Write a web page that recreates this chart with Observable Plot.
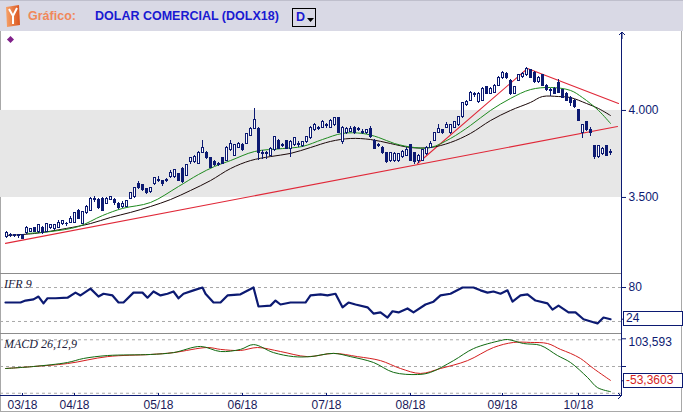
<!DOCTYPE html>
<html><head><meta charset="utf-8">
<script src="https://cdn.jsdelivr.net/npm/d3@7"></script>
<script src="https://cdn.jsdelivr.net/npm/@observablehq/plot@0.6"></script>
<style>
body{margin:0;background:#fff;}
#chart{position:relative;width:683px;height:413px;overflow:hidden;background:#fff;font-family:"Liberation Sans",Arial,sans-serif;}
.abs{position:absolute;}
.plot{position:absolute;left:0;}
#header{left:0;top:0;width:683px;height:31px;background:#d9d9e5;border-top:1px solid #bfbfcc;box-sizing:border-box;}
.htxt{position:absolute;top:8px;font-weight:bold;font-size:12.5px;white-space:nowrap;}
.lbl{position:absolute;font-family:"Liberation Serif","Times New Roman",serif;font-style:italic;font-size:12px;color:#1a1a3a;white-space:nowrap;}
.box{position:absolute;left:623px;width:56px;height:13px;border:1px solid #0c1a72;font-size:12px;line-height:13px;padding-left:2px;box-sizing:content-box;background:#fff;}
</style></head>
<body>
<div id="chart">
  <div id="header" class="abs">
    <svg class="abs" style="left:4px;top:4px" width="18" height="23" viewBox="0 0 18 23">
      <defs><linearGradient id="lg" x1="0" x2="1"><stop offset="0" stop-color="#f7a36a"/><stop offset="1" stop-color="#d9531e"/></linearGradient></defs>
      <polygon points="2,2 15,0 16,20 3,22" fill="url(#lg)"/>
      <path d="M5,4 L9,11 L13,3 M9,11 L9,19" stroke="#fff" stroke-width="2" fill="none"/>
    </svg>
    <span class="htxt" style="left:28px;color:#f0885a">Gráfico:</span>
    <span class="htxt" style="left:95px;color:#1a1ad2">DOLAR COMERCIAL (DOLX18)</span>
    <div class="abs" style="left:292px;top:7px;width:24px;height:19px;border:1px solid #000;box-sizing:border-box;">
      <span class="htxt" style="left:3px;top:1px;color:#1a1ad2">D</span>
      <svg class="abs" style="left:14px;top:9px" width="7" height="4"><polygon points="0,0 7,0 3.5,4" fill="#000"/></svg>
    </div>
  </div>
  <!-- frame chrome -->
  <div class="abs" style="left:0;top:31px;width:1px;height:381px;background:#a8a8a8"></div>
  <div class="abs" style="left:681px;top:31px;width:1px;height:381px;background:#a8a8a8"></div>
  <div class="abs" style="left:0;top:411px;width:682px;height:1px;background:#a8a8a8"></div>
  <div id="plots"></div>
  <div class="abs" style="left:0;top:273px;width:622px;height:1px;background:#8c8c8c"></div>
  <div class="abs" style="left:0;top:333px;width:622px;height:1px;background:#8c8c8c"></div>
  <div class="abs" style="left:621px;top:33px;width:1px;height:363px;background:#0c1a72"></div>
  <div class="abs" style="left:0;top:395px;width:622px;height:1px;background:#0c1a72"></div>
  <svg class="abs" style="left:617px;top:31px" width="10" height="8"><path d="M5,1 L5,8 M2,4 L5,1 L8,4" stroke="#0c1a72" fill="none"/></svg>
  <svg class="abs" style="left:615px;top:391px" width="10" height="10"><path d="M3,2 L6,5 L3,8" stroke="#0c1a72" fill="none"/></svg>
  <div class="abs" style="left:8px;top:37px;width:5px;height:5px;background:#80208a;transform:rotate(45deg)"></div>
  <div class="lbl" style="left:4px;top:277px">IFR 9</div>
  <div class="lbl" style="left:4px;top:337px">MACD 26,12,9</div>
</div>
<script>
// ---- price data (candles, in order) ----
const open = [3.270,3.276,3.282,3.276,3.282,3.293,3.304,3.322,3.299,3.327,
3.304,3.322,3.316,3.327,3.345,3.350,3.356,3.356,3.425,3.350,
3.408,3.425,3.483,3.483,3.494,3.465,3.488,3.488,3.465,3.448,
3.448,3.494,3.500,3.580,3.569,3.546,3.529,3.575,3.597,3.592,
3.592,3.615,3.615,3.632,3.666,3.626,3.701,3.701,3.695,3.758,
3.758,3.724,3.701,3.695,3.724,3.712,3.770,3.741,3.787,3.804,
3.810,3.856,3.896,3.896,3.758,3.747,3.741,3.770,3.827,3.793,
3.822,3.776,3.799,3.810,3.793,3.816,3.839,3.885,3.902,3.902,
3.914,3.902,3.914,3.954,3.816,3.873,3.879,3.902,3.885,3.873,
3.868,3.896,3.827,3.793,3.787,3.753,3.707,3.712,3.707,3.730,
3.741,3.799,3.753,3.712,3.712,3.747,3.787,3.827,3.873,3.885,
3.902,3.868,3.902,3.914,3.960,4.029,4.057,4.086,4.046,4.057,
4.132,4.097,4.103,4.143,4.184,4.212,4.172,4.097,4.172,4.195,
4.201,4.230,4.218,4.161,4.201,4.143,4.109,4.126,4.155,4.115,
4.097,4.074,4.057,4.000,3.873,3.931,3.885,3.793,3.730,3.747,
3.793,3.753];
const high = [3.304,3.293,3.287,3.287,3.287,3.333,3.322,3.327,3.345,3.333,
3.350,3.345,3.345,3.368,3.368,3.356,3.391,3.414,3.431,3.419,
3.454,3.500,3.506,3.494,3.500,3.500,3.506,3.494,3.471,3.477,
3.483,3.529,3.557,3.592,3.575,3.552,3.557,3.615,3.620,3.597,
3.609,3.655,3.661,3.638,3.672,3.689,3.730,3.741,3.764,3.827,
3.764,3.730,3.712,3.701,3.730,3.793,3.827,3.804,3.816,3.810,
3.868,3.902,4.011,3.902,3.770,3.764,3.787,3.850,3.833,3.810,
3.827,3.827,3.845,3.822,3.822,3.850,3.908,3.925,3.908,3.942,
3.925,3.948,3.960,3.960,3.908,3.902,3.908,3.908,3.902,3.891,
3.891,3.908,3.833,3.810,3.793,3.758,3.758,3.758,3.753,3.770,
3.787,3.804,3.758,3.747,3.776,3.793,3.822,3.873,3.919,3.891,
3.931,3.919,3.937,3.965,4.046,4.057,4.109,4.103,4.103,4.132,
4.138,4.132,4.149,4.195,4.224,4.218,4.178,4.138,4.207,4.218,
4.247,4.236,4.224,4.195,4.207,4.149,4.126,4.132,4.178,4.120,
4.103,4.080,4.063,4.006,3.919,3.937,3.902,3.799,3.799,3.787,
3.799,3.776];
const low = [3.264,3.270,3.270,3.264,3.259,3.287,3.299,3.299,3.293,3.287,
3.299,3.316,3.310,3.322,3.339,3.333,3.350,3.350,3.373,3.345,
3.402,3.419,3.471,3.431,3.419,3.460,3.483,3.454,3.431,3.437,
3.442,3.488,3.494,3.546,3.534,3.517,3.523,3.569,3.586,3.563,
3.586,3.609,3.609,3.592,3.580,3.620,3.689,3.695,3.689,3.753,
3.718,3.666,3.678,3.678,3.689,3.707,3.764,3.735,3.781,3.764,
3.804,3.850,3.891,3.712,3.718,3.718,3.735,3.764,3.776,3.787,
3.776,3.730,3.793,3.787,3.787,3.810,3.833,3.879,3.885,3.896,
3.896,3.896,3.908,3.868,3.804,3.862,3.873,3.862,3.879,3.862,
3.862,3.839,3.776,3.787,3.747,3.695,3.701,3.701,3.701,3.724,
3.735,3.707,3.689,3.695,3.707,3.741,3.781,3.822,3.868,3.862,
3.896,3.862,3.896,3.908,3.954,4.023,4.051,4.074,4.040,4.051,
4.092,4.092,4.097,4.138,4.178,4.178,4.086,4.092,4.166,4.184,
4.195,4.184,4.155,4.155,4.138,4.109,4.080,4.092,4.097,4.069,
4.051,4.023,4.011,3.937,3.839,3.879,3.850,3.718,3.724,3.741,
3.735,3.741];
const close = [3.293,3.282,3.276,3.282,3.264,3.322,3.316,3.304,3.339,3.293,
3.345,3.339,3.339,3.356,3.362,3.345,3.379,3.408,3.379,3.414,
3.448,3.494,3.494,3.437,3.425,3.494,3.500,3.471,3.437,3.460,
3.477,3.523,3.552,3.552,3.540,3.523,3.552,3.609,3.603,3.575,
3.603,3.638,3.655,3.597,3.586,3.684,3.724,3.735,3.758,3.787,
3.724,3.672,3.689,3.689,3.695,3.787,3.810,3.799,3.810,3.770,
3.862,3.896,3.948,3.758,3.747,3.758,3.781,3.845,3.781,3.804,
3.781,3.816,3.839,3.799,3.816,3.845,3.902,3.914,3.896,3.931,
3.908,3.942,3.954,3.873,3.902,3.891,3.896,3.868,3.891,3.879,
3.885,3.845,3.781,3.804,3.753,3.701,3.753,3.747,3.747,3.764,
3.770,3.712,3.701,3.741,3.770,3.787,3.810,3.868,3.891,3.873,
3.919,3.914,3.931,3.960,4.040,4.046,4.103,4.092,4.097,4.126,
4.097,4.126,4.143,4.189,4.218,4.184,4.097,4.132,4.201,4.207,
4.241,4.189,4.161,4.189,4.143,4.115,4.120,4.097,4.103,4.074,
4.057,4.040,4.017,3.942,3.914,3.885,3.873,3.730,3.793,3.781,
3.741,3.764];

// moving averages [candle index, price]
const maGreen = [[5,3.293],[11,3.304],[18,3.333],[24,3.396],[29,3.437],[36,3.471],[43,3.563],[48,3.632],[52,3.678],[56,3.712],[62,3.764],[69,3.781],[74,3.793],[79,3.833],[84,3.868],[89,3.868],[93,3.845],[97,3.810],[102,3.787],[106,3.787],[111,3.839],[116,3.914],[121,4.000],[126,4.069],[131,4.120],[136,4.132],[141,4.115],[144,4.074],[148,4.000],[151,3.925]];
const maBlack = [[0,3.282],[7,3.293],[15,3.322],[21,3.350],[26,3.385],[31,3.414],[36,3.448],[41,3.488],[46,3.540],[51,3.597],[56,3.666],[61,3.712],[66,3.735],[71,3.753],[76,3.787],[81,3.822],[86,3.839],[91,3.833],[96,3.810],[101,3.787],[106,3.787],[111,3.816],[116,3.868],[121,3.942],[126,4.000],[131,4.046],[134,4.080],[138,4.080],[141,4.074],[145,4.040],[148,4.011],[151,3.971]];

// trend lines [candle index, price]
const trendSupport = [[-0.25,3.236],[152.75,3.908]];
const trendUp = [[102.75,3.695],[130.25,4.241]];
const trendDown = [[130.25,4.241],[153,4.040]];

const bandLevels = [3.5, 4.0];
const priceTicks = [3.5, 4.0];

// IFR 9 [candle index, value]
const ifr = [[-0.25,53.5],[3.5,53.5],[4.75,57],[6.75,59],[8,64],[9.25,52],[10.25,61],[12.25,61],[15.25,62],[17.25,71],[18.5,66],[21,78],[23,64],[24.25,69],[26.5,66],[28,53.5],[29.25,53.5],[31.75,71],[34,71],[35.25,62],[36.75,73],[38.5,66],[40.25,69],[41.75,73],[43,61],[44.25,69],[46.75,75],[49,80],[49.75,69],[51.75,53.5],[53.5,53.5],[55.25,66],[58.5,68],[61.75,80],[63,46.5],[66,48],[67.25,57],[68.5,50],[71,53.5],[74.75,53.5],[76,66],[78.5,68],[80.25,66],[82.25,69],[84,45],[85.5,53.5],[87.25,50],[90.25,45],[91.75,34],[93.5,36],[95.25,27],[96.5,38],[98,36],[100.25,43],[101.75,36],[104.75,50],[106.75,55],[108.5,66],[111,69],[114,80],[116.75,80],[118.5,75],[120.25,71],[121.75,73],[123.5,69],[125.25,75],[126.5,55],[128.5,66],[130.25,68],[132.25,57],[135.25,52],[136.5,41],[138,48],[140.5,36],[142.25,36],[144.25,24],[147.75,16.5],[149.25,27],[151,24]];
const ifrGrid = [20, 80];
const ifrLabels = [80];
const ifrLast = 24;

// MACD 26,12,9 [candle index, value]
const macdLine = [[-0.25,-7.5],[6.75,0],[15.25,15],[19.25,30],[25.25,41],[36,45],[41.75,52],[48.5,75],[53.5,56],[58.5,64],[61.75,82],[66.75,52],[71.75,37],[76,37],[81.75,49],[86,37],[91.75,15],[96.75,-22],[102.75,-30],[106,-22],[111.75,22],[116.75,67],[123.5,97],[125.25,101],[129.25,86],[133.5,79],[137.75,41],[141,15],[145.25,-41],[147.75,-79],[151,-94]];
const macdSignal = [[-0.25,-7.5],[6.75,0],[15.25,11],[25.25,37],[36,45],[41.75,52],[50.25,71],[53.5,64],[58.5,60],[62.75,71],[68.5,56],[75.25,37],[81.75,49],[87.75,37],[93.5,22],[98.5,-7.5],[103.5,-26],[108.5,-7.5],[115.25,22],[121.75,71],[126.75,90],[131,90],[135.25,86],[138.5,64],[141,49],[143.5,30],[146.75,-7.5],[151,-52]];
const macdGrid = [100, 0, -100];
const macdTop = 103.593;
const macdLast = -53.3603;

// time axis
const monthIdx = [4, 17, 38, 59, 80, 101, 124, 143];
const monthLabels = ["03/18","04/18","05/18","06/18","07/18","08/18","09/18","10/18"];

// ---- drawing ----
const navy = "#0c1a72", red = "#e02838";
const xDomain = [-1.5, 154];
const common = {width: 683, marginLeft: 0, marginRight: 61,
  style: {fontFamily: "'Liberation Sans', Arial, sans-serif", fontSize: "12px", background: "transparent", overflow: "visible"}};
const candles = open.map((o, i) => ({i, o, h: high[i], l: low[i], c: close[i]}));
const ups = candles.filter(d => d.c >= d.o), downs = candles.filter(d => d.c < d.o);
const X = d => d[0], Y = d => d[1];
const xMax = () => xDomain[1], xMin = () => xDomain[0];

const pricePlot = Plot.plot({...common, height: 244, marginTop: 2, marginBottom: 1,
  x: {domain: xDomain, axis: null}, y: {domain: [3.063, 4.448], axis: null},
  marks: [
    Plot.rect([bandLevels], {x1: xMin, x2: xMax, y1: d => d[0], y2: d => d[1], fill: "#e7e7e7"}),
    Plot.line(trendSupport, {x: X, y: Y, stroke: red, strokeWidth: 1.1}),
    Plot.line(trendUp, {x: X, y: Y, stroke: red, strokeWidth: 1.1}),
    Plot.line(trendDown, {x: X, y: Y, stroke: red, strokeWidth: 1.1}),
    Plot.line(maBlack, {x: X, y: Y, stroke: "#1a0808", strokeWidth: 1, curve: "catmull-rom"}),
    Plot.line(maGreen, {x: X, y: Y, stroke: "#1e8a1e", strokeWidth: 1, curve: "catmull-rom"}),
    Plot.ruleX(candles, {x: "i", y1: "l", y2: "h", stroke: navy, strokeWidth: 1, shapeRendering: "crispEdges"}),
    Plot.rect(ups, {x1: d => d.i - 0.25, x2: d => d.i + 0.25, y1: "o", y2: "c", fill: "#fff", stroke: navy, strokeWidth: 1, shapeRendering: "crispEdges"}),
    Plot.rect(downs, {x1: d => d.i - 0.25, x2: d => d.i + 0.25, y1: "o", y2: "c", fill: navy, stroke: navy, strokeWidth: 1, shapeRendering: "crispEdges"}),
    Plot.ruleY(priceTicks, {x1: xMax, x2: xMax, insetRight: -4, stroke: navy}),
    Plot.text(priceTicks, {x: xMax, y: d => d, text: d => d.toFixed(3), dx: 6, textAnchor: "start", fill: navy, fontSize: 12})
  ]});

const ifrPlot = Plot.plot({...common, height: 60, marginTop: 0, marginBottom: 0,
  x: {domain: xDomain, axis: null}, y: {domain: [-3, 103], axis: null},
  marks: [
    Plot.ruleY(ifrGrid, {x1: xMin, x2: xMax, stroke: "#a8a8a8", strokeDasharray: "3,3"}),
    Plot.line(ifr, {x: X, y: Y, stroke: navy, strokeWidth: 2.2, strokeLinejoin: "round"}),
    Plot.ruleY([...ifrLabels, ifrLast], {x1: xMax, x2: xMax, insetRight: -4, stroke: navy}),
    Plot.text(ifrLabels, {x: xMax, y: d => d, text: d => String(d), dx: 6, textAnchor: "start", fill: navy, fontSize: 12})
  ]});

const fmt = v => v.toString().replace(".", ",");
const macdPlot = Plot.plot({...common, height: 79, marginTop: 0, marginBottom: 17,
  x: {domain: xDomain, axis: null}, y: {domain: [-112.2, 119.7], axis: null},
  marks: [
    Plot.ruleY(macdGrid, {x1: xMin, x2: xMax, stroke: "#a8a8a8", strokeDasharray: "3,3"}),
    Plot.line(macdSignal, {x: X, y: Y, stroke: "#d41e1e", strokeWidth: 1, curve: "catmull-rom"}),
    Plot.line(macdLine, {x: X, y: Y, stroke: "#106a10", strokeWidth: 1, curve: "catmull-rom"}),
    Plot.ruleY([macdTop, 0, macdLast], {x1: xMax, x2: xMax, insetRight: -4, stroke: navy}),
    Plot.text([macdTop], {x: xMax, y: d => d, text: fmt, dx: 6, dy: 3, textAnchor: "start", fill: navy, fontSize: 12}),
    Plot.ruleX(monthIdx, {x: d => d, y1: () => -112.2, y2: () => -112.2, insetTop: -3, stroke: navy}),
    Plot.text(monthIdx, {x: d => d, y: () => -112.2, text: (d, i) => monthLabels[i], dy: 9, fill: "#1a1a5a", fontSize: 12})
  ]});

const holder = document.getElementById("plots");
const place = (svg, top) => { svg.classList.add("plot"); svg.style.top = top + "px"; holder.appendChild(svg); };
place(pricePlot, 30); place(ifrPlot, 274); place(macdPlot, 334);

// value boxes
const chart = document.getElementById("chart");
function box(plot, top, v, text, color) {
  const y = plot.scale("y").apply(v) + top;
  const b = document.createElement("div");
  b.className = "box"; b.style.top = (y - 7.5) + "px"; b.style.color = color; b.textContent = text;
  chart.appendChild(b);
}
box(ifrPlot, 274, ifrLast, String(ifrLast), navy);
box(macdPlot, 334, macdLast, fmt(macdLast), "#d41e1e");
</script>
</body></html>
